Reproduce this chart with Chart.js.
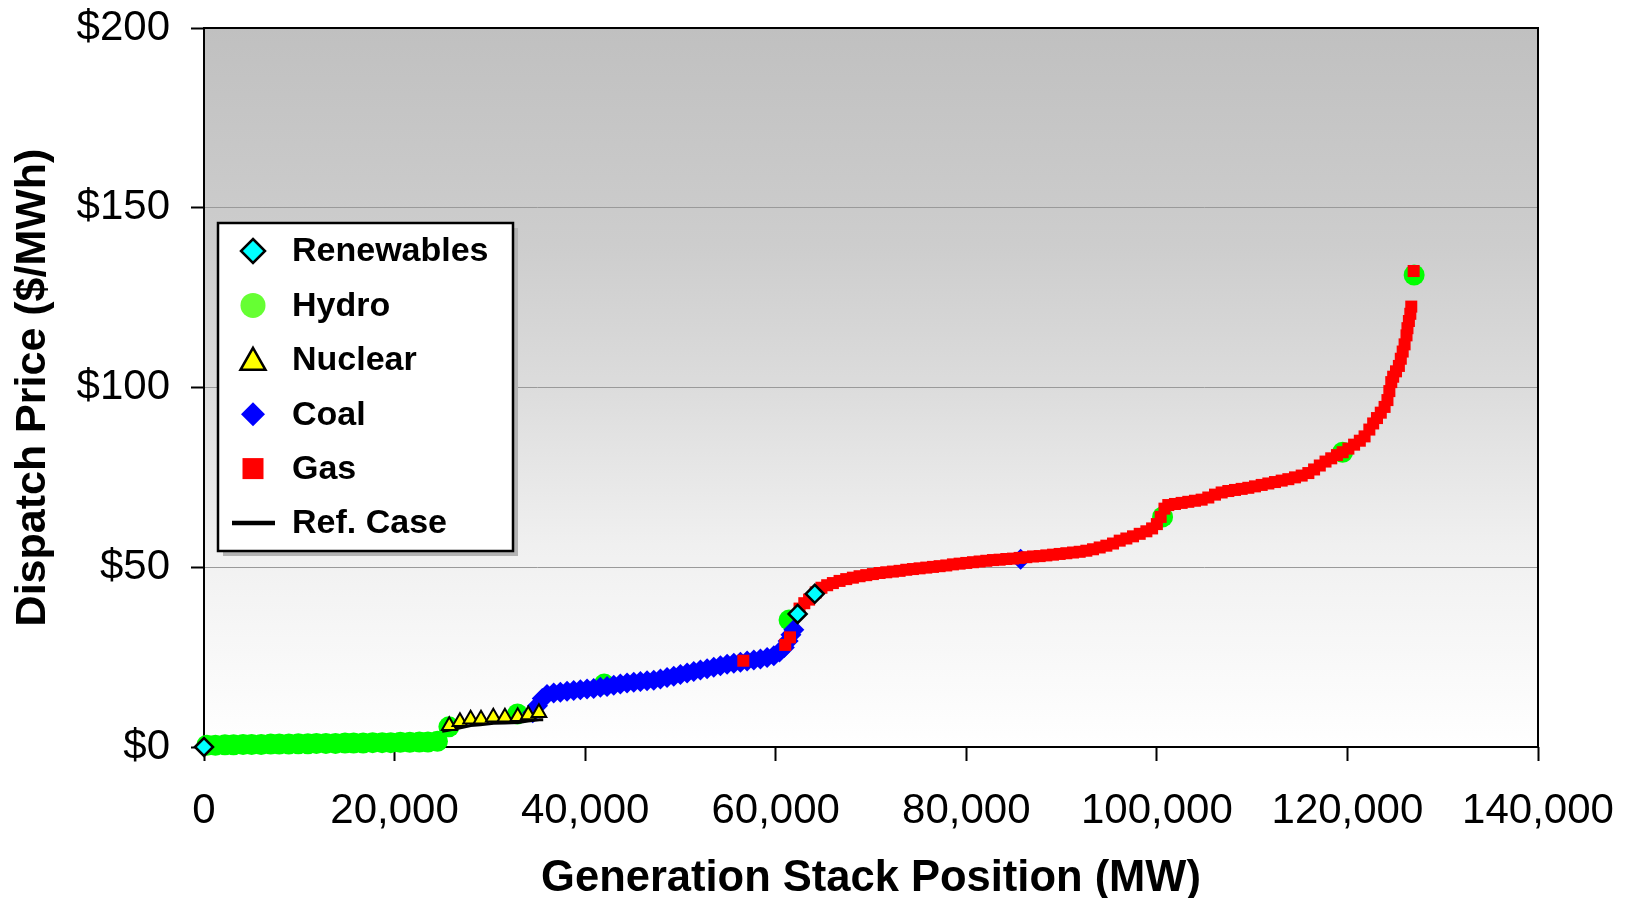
<!DOCTYPE html>
<html>
<head>
<meta charset="utf-8">
<title>Dispatch Price vs Generation Stack Position</title>
<script src="https://cdn.jsdelivr.net/npm/chart.js@4.4.1/dist/chart.umd.min.js"></script>
<style>
  html, body { margin: 0; padding: 0; background: #fff; }
  #wrap { width: 1625px; height: 898px; position: relative; }
</style>
</head>
<body>
<div id="wrap"><canvas id="stackChart"></canvas></div>
<script>
// --- data (MW, $/MWh) ---
const renewablesMW = [0, 62300, 64100];
const renewablesPrice = [0.0, 37.0, 42.6];

const hydroMW = [300, 1200, 2200, 3100, 4100, 5000, 6000, 7000, 7900, 8900, 9900, 10900,
  11800, 12800, 13800, 14800, 15700, 16700, 17700, 18700, 19600, 20600, 21600, 22600,
  23500, 24500, 25700, 32900, 42000, 61400, 100600, 119500, 127000];
const hydroPrice = [0.5, 0.5, 0.6, 0.6, 0.7, 0.7, 0.7, 0.8, 0.8, 0.8, 0.9, 0.9,
  1.0, 1.0, 1.0, 1.1, 1.1, 1.1, 1.2, 1.2, 1.2, 1.3, 1.3, 1.4,
  1.4, 1.6, 5.6, 9.2, 17.5, 35.3, 64.0, 82.0, 131.3];

const nuclearMW = [25740, 26860, 27980, 29070, 30360, 31580, 32920, 34030, 35150];
const nuclearPrice = [5.9, 7.0, 7.7, 7.7, 8.3, 8.3, 8.4, 8.9, 9.5];

const coalMW = [34500, 35000, 35500, 36000, 36700, 37400, 38100, 38800, 39500, 40200,
  40900, 41600, 42300, 43000, 43700, 44400, 45100, 45800, 46500, 47200, 47900, 48600,
  49300, 50000, 50700, 51400, 52100, 52800, 53500, 54200, 54900, 55600, 56300, 57000,
  57700, 58400, 59100, 59800, 60400, 60900, 61300, 61600, 61900, 85700];
const coalPrice = [9.5, 11.5, 13.5, 14.6, 15.0, 15.2, 15.5, 15.7, 15.9, 16.1,
  16.3, 16.6, 16.8, 17.2, 17.5, 17.8, 18.0, 18.2, 18.4, 18.6, 18.9, 19.3,
  19.7, 20.2, 20.6, 21.0, 21.4, 21.8, 22.2, 22.6, 23.0, 23.3, 23.6, 23.9,
  24.2, 24.5, 24.9, 25.4, 26.4, 27.7, 29.5, 31.2, 32.6, 52.2];

const gasMW = [56600, 61000, 61500, 62500, 63000, 63500, 64200, 64800, 65400, 66000,
  66700, 67400, 68100, 68800, 69500, 70200, 70900, 71600, 72300, 73000, 73700, 74400,
  75100, 75800, 76500, 77200, 77900, 78600, 79300, 80000, 80700, 81400, 82100, 82800,
  83500, 84200, 84900, 85600, 86300, 87000, 87700, 88400, 89100, 89800, 90500, 91200,
  91900, 92600, 93300, 94000, 94700, 95400, 96100, 96800, 97500, 98200, 98900, 99500,
  100000, 100400, 100800, 101200, 101900, 102600, 103300, 104000, 104700, 105400, 106100,
  106800, 107500, 108200, 108900, 109600, 110300, 111000, 111700, 112400, 113100, 113800,
  114500, 115200, 115900, 116500, 117100, 117700, 118300, 118900, 119500, 120100, 120700,
  121300, 121800, 122300, 122700, 123100, 123500, 123900, 124200, 124400, 124600, 124800,
  125100, 125400, 125600, 125800, 126000, 126200, 126300, 126450, 126600, 126700, 126950];
const gasPrice = [24.0, 28.4, 30.5, 38.5, 40.0, 41.0, 43.0, 44.3, 45.0, 45.6,
  46.2, 46.7, 47.1, 47.5, 47.8, 48.1, 48.4, 48.6, 48.8, 49.0, 49.3, 49.5,
  49.7, 49.9, 50.1, 50.3, 50.5, 50.8, 51.0, 51.2, 51.4, 51.6, 51.8, 52.0,
  52.1, 52.3, 52.4, 52.6, 52.8, 53.0, 53.1, 53.3, 53.5, 53.7, 53.9, 54.1,
  54.3, 54.6, 55.0, 55.5, 56.0, 56.6, 57.4, 58.0, 58.6, 59.3, 60.0, 60.8,
  62.0, 64.0, 66.3, 67.3, 67.6, 67.9, 68.2, 68.5, 68.8, 69.4, 70.2,
  70.8, 71.2, 71.5, 71.8, 72.1, 72.5, 72.9, 73.3, 73.7, 74.1, 74.5,
  75.0, 75.5, 76.2, 77.2, 78.3, 79.4, 80.3, 81.2, 82.0, 83.0, 84.1,
  85.2, 86.4, 88.3, 90.0, 91.5, 93.0, 94.6, 96.5, 99.0, 101.5, 103.0,
  104.5, 106.0, 108.0, 110.0, 112.0, 114.5, 116.5, 118.5, 120.5, 122.5, 132.4];

const refCaseMW = [25000, 25500, 26800, 28000, 29000, 30400, 31600, 33000, 34000, 35200, 35600];
const refCasePrice = [4.4, 4.6, 5.3, 6.0, 6.2, 6.6, 6.7, 6.8, 7.2, 7.6, 7.6];

const legendLabels = ["Renewables", "Hydro", "Nuclear", "Coal", "Gas", "Ref. Case"];
const xTicks = [0, 20000, 40000, 60000, 80000, 100000, 120000, 140000];

const FONT = "'Liberation Sans', Arial, Helvetica, sans-serif";

function pts(xs, ys) {
  return xs.map((x, i) => ({ x: x, y: ys[i] }));
}

// plot area gradient, grey at top fading to white
const bgPlugin = {
  id: "bg",
  beforeDraw(chart) {
    const { ctx, chartArea: a } = chart;
    ctx.save();
    ctx.fillStyle = "#fff";
    ctx.fillRect(0, 0, chart.width, chart.height);
    const g = ctx.createLinearGradient(0, a.top, 0, a.bottom);
    g.addColorStop(0, "#c0c0c0");
    g.addColorStop(0.3, "#cdcdcd");
    g.addColorStop(0.5, "#dcdcdc");
    g.addColorStop(0.72, "#f0f0f0");
    g.addColorStop(1, "#ffffff");
    ctx.fillStyle = g;
    ctx.fillRect(a.left, a.top, a.right - a.left, a.bottom - a.top);
    ctx.restore();
  }
};

// black box round the plot area, under the markers
const framePlugin = {
  id: "frame",
  beforeDatasetsDraw(chart) {
    const { ctx, chartArea: a } = chart;
    ctx.save();
    ctx.strokeStyle = "#000";
    ctx.lineWidth = 2;
    ctx.strokeRect(a.left, a.top, a.right - a.left, a.bottom - a.top);
    ctx.restore();
  }
};

function drawMarker(ctx, kind, x, y) {
  ctx.beginPath();
  if (kind === "diamond") {
    ctx.moveTo(x, y - 12); ctx.lineTo(x + 12, y); ctx.lineTo(x, y + 12); ctx.lineTo(x - 12, y);
    ctx.closePath();
  } else if (kind === "circle") {
    ctx.arc(x, y, 12.5, 0, Math.PI * 2);
  } else if (kind === "triangle") {
    ctx.moveTo(x, y - 12); ctx.lineTo(x + 12.5, y + 10); ctx.lineTo(x - 12.5, y + 10);
    ctx.closePath();
  } else if (kind === "square") {
    ctx.rect(x - 10.5, y - 10.5, 21, 21);
  }
}

// legend box drawn inside the plot, with a grey drop shadow
const legendPlugin = {
  id: "boxLegend",
  afterDatasetsDraw(chart) {
    const ctx = chart.ctx;
    const styles = [
      { kind: "diamond", fill: "#00ffff", stroke: "#000" },
      { kind: "circle", fill: "#66ff33", stroke: null },
      { kind: "triangle", fill: "#ffff00", stroke: "#000" },
      { kind: "diamond", fill: "#0000ff", stroke: null },
      { kind: "square", fill: "#ff0000", stroke: null },
      { kind: "line", fill: null, stroke: "#000" }
    ];
    const bx = 218, by = 223, bw = 295, bh = 328;
    ctx.save();
    ctx.fillStyle = "#b3b3b3";
    ctx.fillRect(bx + 5, by + 5, bw, bh);
    ctx.fillStyle = "#fff";
    ctx.fillRect(bx, by, bw, bh);
    ctx.strokeStyle = "#000";
    ctx.lineWidth = 2.5;
    ctx.strokeRect(bx, by, bw, bh);

    ctx.font = "bold 34px " + FONT;
    ctx.textBaseline = "middle";
    ctx.textAlign = "left";
    legendLabels.forEach((label, i) => {
      const cy = 251 + i * 54.4;
      const s = styles[i];
      if (s.kind === "line") {
        ctx.strokeStyle = "#000";
        ctx.lineWidth = 4.5;
        ctx.beginPath();
        ctx.moveTo(232, cy);
        ctx.lineTo(275, cy);
        ctx.stroke();
      } else {
        drawMarker(ctx, s.kind, 253, cy);
        ctx.fillStyle = s.fill;
        ctx.fill();
        if (s.stroke) {
          ctx.strokeStyle = s.stroke;
          ctx.lineWidth = 2.5;
          ctx.stroke();
        }
      }
      ctx.fillStyle = "#000";
      ctx.fillText(label, 292, cy + 1);
    });
    ctx.restore();
  }
};

const chart = new Chart(document.getElementById("stackChart"), {
  type: "scatter",
  data: {
    datasets: [
      {
        label: legendLabels[0],
        data: pts(renewablesMW, renewablesPrice),
        pointStyle: "rectRot",
        pointRadius: 9,
        backgroundColor: "#00ffff",
        borderColor: "#000",
        borderWidth: 2.5,
        clip: false
      },
      {
        label: legendLabels[2],
        data: pts(nuclearMW, nuclearPrice),
        pointStyle: "triangle",
        pointRadius: 8.5,
        backgroundColor: "#ffff00",
        borderColor: "#000",
        borderWidth: 2,
        clip: false
      },
      {
        label: legendLabels[5],
        data: pts(refCaseMW, refCasePrice),
        showLine: true,
        pointRadius: 0,
        borderColor: "#000",
        borderWidth: 3,
        clip: false
      },
      {
        label: legendLabels[4],
        data: pts(gasMW, gasPrice),
        pointStyle: "rect",
        pointRadius: 8.5,
        backgroundColor: "#ff0000",
        borderWidth: 0,
        clip: false
      },
      {
        label: legendLabels[3],
        data: pts(coalMW, coalPrice),
        pointStyle: "rectRot",
        pointRadius: 10.5,
        backgroundColor: "#0000ff",
        borderWidth: 0,
        clip: false
      },
      {
        label: legendLabels[1],
        data: pts(hydroMW, hydroPrice),
        pointStyle: "circle",
        pointRadius: 10.5,
        backgroundColor: "#00ff00",
        borderWidth: 0,
        clip: false
      }
    ]
  },
  options: {
    responsive: true,
    maintainAspectRatio: false,
    animation: false,
    events: [],
    layout: { padding: { top: 28, right: 87, bottom: 0, left: 0 } },
    plugins: {
      legend: { display: false },
      tooltip: { enabled: false }
    },
    scales: {
      x: {
        type: "linear",
        min: 0,
        max: 140000,
        afterFit(scale) {
          scale.height = 151;
          scale.paddingLeft = 0;
          scale.paddingRight = 0;
        },
        afterBuildTicks(scale) { scale.ticks = xTicks.map(v => ({ value: v })); },
        border: { display: false },
        grid: { drawOnChartArea: false, tickLength: 14, tickColor: "#000", tickWidth: 2 },
        ticks: {
          padding: 25,
          color: "#000",
          autoSkip: false,
          maxRotation: 0,
          font: { family: FONT, size: 42, lineHeight: 1.2 },
          callback: v => v.toLocaleString("en-US")
        },
        title: {
          display: true,
          text: "Generation Stack Position (MW)",
          color: "#000",
          padding: 0,
          font: { family: FONT, size: 43.5, weight: "bold", lineHeight: 0.86 }
        }
      },
      y: {
        min: 0,
        max: 200,
        afterFit(scale) {
          scale.width = 204;
          scale.paddingTop = 0;
          scale.paddingBottom = 0;
        },
        border: { display: false },
        grid: { color: "#9a9a9a", lineWidth: 1, tickLength: 13, tickColor: "#000", tickWidth: 2 },
        ticks: {
          stepSize: 50,
          padding: 21,
          color: "#000",
          font: { family: FONT, size: 42, lineHeight: 1.2 },
          callback: v => "$" + v
        },
        title: {
          display: true,
          text: "Dispatch Price ($/MWh)",
          color: "#000",
          padding: { top: 7, bottom: 0 },
          font: { family: FONT, size: 43, weight: "bold", lineHeight: 1.2 }
        }
      }
    }
  },
  plugins: [bgPlugin, framePlugin, legendPlugin]
});
</script>
</body>
</html>
